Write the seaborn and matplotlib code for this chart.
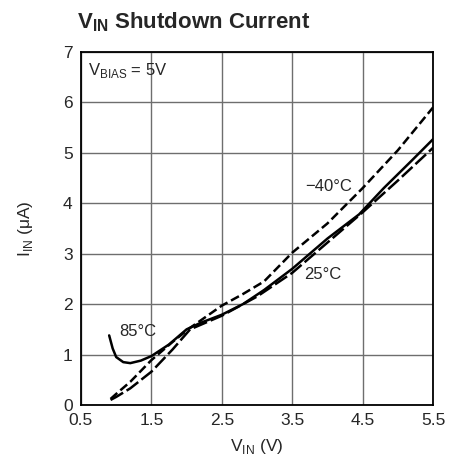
import seaborn as sns
import matplotlib.pyplot as plt
import pandas as pd

# Данные
x_85 = [0.9, 0.95, 1.0, 1.1, 1.2, 1.35, 1.5, 1.75, 2.0, 2.2, 2.5, 2.8, 3.1, 3.5, 4.0, 4.45, 4.8, 5.2, 5.5]
y_85 = [1.38, 1.12, 0.95, 0.85, 0.83, 0.88, 0.97, 1.2, 1.5, 1.63, 1.79, 2.0, 2.28, 2.7, 3.3, 3.78, 4.3, 4.85, 5.27]

x_m40 = [0.92, 1.0, 1.2, 1.5, 1.8, 2.05, 2.5, 2.8, 3.1, 3.5, 4.0, 4.5, 5.0, 5.5]
y_m40 = [0.12, 0.22, 0.46, 0.89, 1.25, 1.53, 1.97, 2.2, 2.45, 3.02, 3.6, 4.3, 5.05, 5.9]

x_25 = [0.92, 1.0, 1.2, 1.5, 1.8, 2.05, 2.5, 3.0, 3.5, 4.0, 4.5, 5.0, 5.5]
y_25 = [0.1, 0.16, 0.33, 0.66, 1.1, 1.5, 1.77, 2.15, 2.62, 3.22, 3.82, 4.45, 5.1]

x_ticks = [0.5, 1.5, 2.5, 3.5, 4.5, 5.5]
y_ticks = [0, 1, 2, 3, 4, 5, 6, 7]


def build_frame():
  parts = []
  for name, xs, ys in [('85', x_85, y_85), ('-40', x_m40, y_m40), ('25', x_25, y_25)]:
    parts.append(pd.DataFrame({'vin': xs, 'iin': ys, 'temp': name}))
  return pd.concat(parts, ignore_index=True)


def draw(data):
  sns.set_style('white')
  plt.rcParams['font.family'] = ['Liberation Sans Narrow', 'Liberation Sans', 'DejaVu Sans']
  plt.rcParams['mathtext.fontset'] = 'custom'
  plt.rcParams['mathtext.rm'] = 'Liberation Sans'
  plt.rcParams['mathtext.bf'] = 'Liberation Sans:bold'

  fig = plt.figure(figsize=(4.49, 4.63), dpi=100)
  ax = fig.add_axes([0.1804, 0.1253, 0.784, 0.7624])

  sns.lineplot(data=data, x='vin', y='iin', style='temp', color='black',
               dashes={'85': '', '-40': (3.6, 1.6), '25': (5.8, 1.6)},
               linewidth=1.8, estimator=None, sort=False, legend=False, ax=ax)

  ax.set_xlim(0.5, 5.5)
  ax.set_ylim(0, 7)
  ax.set_xticks(x_ticks)
  ax.set_xticklabels([str(t) for t in x_ticks])
  ax.set_yticks(y_ticks)
  ax.grid(True, color='#6e6e6e', linewidth=1.0)
  ax.tick_params(labelsize=12.5, length=0, pad=6)
  for s in ax.spines.values():
    s.set_color('black')
    s.set_linewidth(1.3)

  ax.set_xlabel(r'V$_{\mathrm{IN}}$ (V)', fontsize=12.5, labelpad=6)
  ax.set_ylabel(r'I$_{\mathrm{IN}}$ ($\mathrm{\mu}$A)', fontsize=12.5, labelpad=20)

  ax.text(0.6, 6.63, r'V$_{\mathrm{BIAS}}$ = 5V', fontsize=12, va='center')
  ax.text(3.68, 4.33, '−40°C', fontsize=12, va='center')
  ax.text(3.67, 2.58, '25°C', fontsize=12, va='center')
  ax.text(1.05, 1.45, '85°C', fontsize=12, va='center')

  fig.text(0.172, 0.938, r'V$_{\mathbf{IN}}$ Shutdown Current', fontsize=16,
           fontweight='bold', va='baseline')

  fig.savefig('out.png', dpi=100)


if __name__ == "__main__":
  df = build_frame()
  draw(df)
